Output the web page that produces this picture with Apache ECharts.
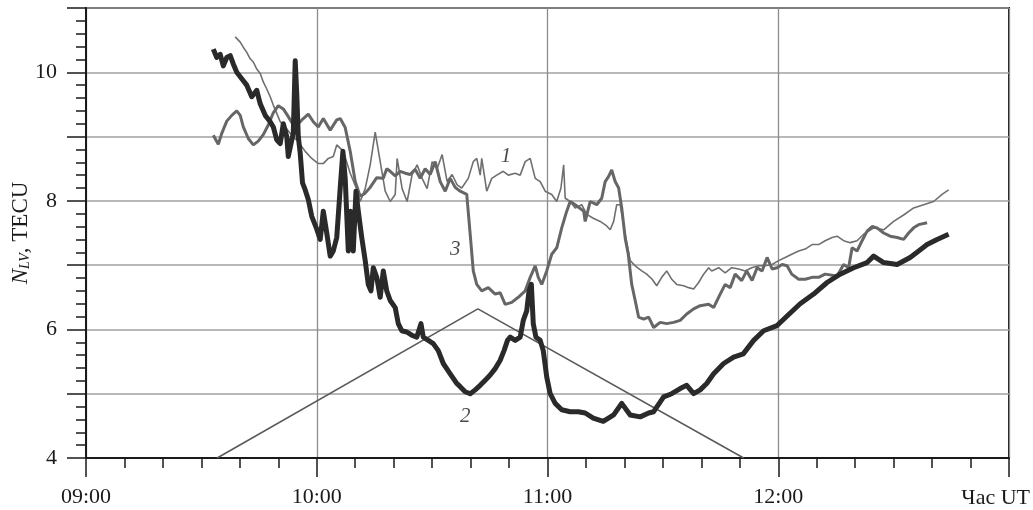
<!DOCTYPE html>
<html>
<head>
<meta charset="utf-8">
<script src="https://cdn.jsdelivr.net/npm/echarts@6/dist/echarts.min.js"></script>
<style>
  html, body { margin: 0; padding: 0; background: #fff; }
  #chart { width: 1033px; height: 510px; }
</style>
</head>
<body>
<div id="chart"></div>
<script>
// Time is given in minutes of the day (UT), values in TECU.
const xTicksMin = [540, 600, 660, 720, 780];
const yTickValues = [4, 6, 8, 10];

// Curve 1 (thin line)
const curve1 = [
  [578.8,10.55],[580.1,10.47],[580.9,10.39],[581.8,10.31],[582.7,10.21],[583.5,10.16],[584.4,10.05],
  [585.3,9.98],[586.1,9.85],[587.0,9.74],[587.9,9.62],[588.7,9.49],[589.6,9.36],[590.5,9.23],
  [591.8,9.15],[593.5,9.02],[595.2,8.92],[597.0,8.77],[598.7,8.66],[600.4,8.58],[601.7,8.58],
  [603.0,8.66],[604.3,8.69],[605.2,8.87],[606.9,8.77],[608.7,8.43],[610.4,8.18],[611.3,7.99],
  [612.6,8.19],[613.9,8.56],[615.2,9.07],[616.5,8.61],[617.8,8.15],[619.1,7.99],[620.4,8.10],
  [620.9,8.66],[622.2,8.19],[623.5,7.99],[624.8,8.41],[626.1,8.56],[627.4,8.35],[628.7,8.19],
  [630.0,8.61],[631.3,8.50],[632.6,8.72],[633.9,8.30],[635.2,8.41],[636.5,8.25],[637.7,8.20],
  [639.4,8.35],[640.7,8.61],[641.6,8.66],[642.5,8.40],[642.9,8.66],[644.2,8.15],[645.5,8.35],
  [646.8,8.40],[648.5,8.46],[649.8,8.40],[651.6,8.43],[652.9,8.40],[654.2,8.61],[655.5,8.66],
  [656.8,8.35],[658.1,8.30],[659.4,8.15],[661.1,8.10],[662.4,7.99],[663.5,8.20],[664.2,8.56],
  [664.6,8.04],[665.9,7.99],[667.2,7.89],[668.9,7.94],[670.2,7.79],[671.9,7.73],[673.7,7.68],
  [675.4,7.61],[676.3,7.55],[677.2,7.68],[678.0,7.94],[678.9,7.94],[680.2,7.48],[681.5,7.07],
  [682.8,6.99],[684.5,6.91],[685.8,6.86],[687.2,6.78],[688.4,6.68],[689.7,6.81],[691.0,6.91],
  [692.3,6.78],[693.6,6.70],[695.4,6.68],[696.7,6.65],[698.0,6.63],[699.3,6.73],[700.6,6.86],
  [701.9,6.96],[702.7,6.91],[704.5,6.96],[706.2,6.88],[707.9,6.96],[709.7,6.94],[711.4,6.91],
  [713.1,6.96],[714.9,6.99],[716.6,6.99],[718.4,7.01],[720.1,7.07],[721.8,7.12],[723.5,7.17],
  [725.3,7.22],[727.0,7.25],[728.8,7.32],[730.5,7.32],[732.2,7.38],[734.0,7.43],[735.3,7.45],
  [737.0,7.38],[738.7,7.35],[740.5,7.38],[742.2,7.48],[744.8,7.58],[747.4,7.55],[750.0,7.68],
  [752.6,7.78],[755.2,7.89],[757.8,7.94],[760.4,7.99],[762.6,8.10],[764.3,8.17]
];

// Curve 2 (thick dark line)
const curve2 = [
  [573.1,10.36],[574.0,10.23],[574.9,10.28],[575.7,10.10],[576.6,10.23],[577.5,10.26],[578.3,10.13],
  [579.2,10.00],[580.5,9.90],[581.8,9.80],[583.1,9.62],[584.4,9.72],[585.3,9.51],[586.6,9.33],
  [587.9,9.23],[588.7,9.15],[589.6,8.95],[590.5,8.89],[591.3,9.20],[592.2,9.00],[592.6,8.69],
  [593.3,8.89],[593.9,9.05],[594.4,10.18],[594.8,9.67],[595.2,9.00],[595.7,8.74],[596.3,8.28],
  [597.0,8.17],[597.8,8.02],[598.7,7.76],[600.0,7.56],[600.9,7.40],[601.7,7.84],[602.6,7.50],
  [603.5,7.14],[604.3,7.22],[605.2,7.43],[606.1,8.20],[606.8,8.77],[607.4,8.35],[608.2,7.22],
  [608.8,7.84],[609.5,7.22],[610.2,8.15],[610.8,7.84],[611.7,7.43],[612.6,7.07],[613.4,6.70],
  [614.1,6.60],[614.7,6.96],[615.6,6.81],[616.5,6.50],[617.3,6.91],[618.2,6.60],[619.1,6.45],
  [620.4,6.34],[621.2,6.09],[622.1,5.98],[623.4,5.96],[624.7,5.91],[626.0,5.88],[627.1,6.09],
  [627.7,5.88],[629.0,5.83],[630.3,5.78],[631.6,5.67],[632.9,5.47],[634.7,5.31],[636.4,5.16],
  [637.3,5.11],[638.6,5.03],[639.9,5.00],[641.2,5.06],[642.5,5.13],[643.8,5.21],[645.1,5.29],
  [646.4,5.39],[647.7,5.52],[648.7,5.67],[649.6,5.83],[650.3,5.88],[651.6,5.83],[652.9,5.88],
  [653.7,6.14],[654.6,6.29],[655.2,6.60],[655.8,6.70],[656.3,6.09],[657.0,5.88],[658.1,5.83],
  [658.9,5.67],[659.8,5.26],[660.7,5.00],[662.0,4.85],[663.7,4.75],[665.9,4.72],[668.0,4.72],
  [669.8,4.70],[671.9,4.62],[674.5,4.57],[677.2,4.67],[679.3,4.85],[681.5,4.67],[684.1,4.64],
  [686.3,4.70],[687.6,4.72],[690.2,4.95],[692.3,5.00],[694.5,5.08],[696.2,5.13],[698.0,5.00],
  [699.7,5.06],[701.4,5.16],[703.2,5.31],[705.8,5.47],[708.4,5.57],[710.9,5.62],[713.6,5.83],
  [716.2,5.98],[719.7,6.06],[722.3,6.21],[725.7,6.40],[729.2,6.55],[732.7,6.73],[736.1,6.86],
  [739.6,6.96],[743.1,7.04],[744.8,7.14],[747.4,7.04],[750.9,7.01],[754.3,7.12],[756.1,7.20],
  [758.7,7.32],[761.3,7.40],[764.3,7.48]
];

// Curve 3 (medium line)
const curve3 = [
  [573.1,9.02],[574.4,8.88],[575.3,9.05],[576.6,9.24],[577.9,9.33],[579.2,9.40],[580.1,9.33],
  [580.9,9.15],[582.2,8.97],[583.5,8.87],[584.8,8.93],[586.1,9.03],[587.4,9.18],[588.7,9.37],
  [590.0,9.48],[591.3,9.43],[592.6,9.31],[593.9,9.18],[595.2,9.20],[596.5,9.28],[597.8,9.35],
  [599.1,9.23],[600.4,9.15],[601.7,9.28],[603.5,9.10],[605.2,9.26],[606.1,9.28],[607.4,9.14],
  [608.7,8.77],[610.0,8.30],[611.3,8.07],[612.6,8.12],[613.9,8.21],[615.6,8.36],[617.3,8.35],
  [618.2,8.50],[619.1,8.46],[620.4,8.39],[621.7,8.46],[623.0,8.43],[624.3,8.41],[625.6,8.49],
  [626.9,8.35],[628.2,8.50],[629.5,8.41],[630.8,8.61],[632.1,8.30],[633.4,8.15],[634.7,8.35],
  [636.0,8.21],[637.3,8.15],[639.0,8.10],[639.9,7.48],[640.7,6.91],[641.6,6.70],[642.9,6.60],
  [644.6,6.65],[646.4,6.55],[647.7,6.57],[649.0,6.39],[650.7,6.42],[652.4,6.50],[654.2,6.60],
  [655.5,6.81],[656.8,6.99],[657.6,6.81],[658.5,6.70],[659.8,6.91],[661.1,7.17],[662.4,7.27],
  [663.7,7.58],[665.0,7.84],[665.9,7.99],[667.2,7.94],[669.4,7.84],[669.8,7.68],[671.1,7.99],
  [672.8,7.94],[674.1,8.04],[675.0,8.30],[675.9,8.38],[676.7,8.48],[677.6,8.30],[678.5,8.20],
  [679.3,7.89],[680.2,7.42],[681.0,7.17],[681.9,6.70],[682.8,6.45],[683.7,6.19],[685.0,6.16],
  [686.3,6.19],[687.6,6.03],[689.3,6.11],[691.0,6.09],[692.8,6.11],[694.5,6.14],[696.2,6.24],
  [698.0,6.32],[699.7,6.37],[701.9,6.39],[703.2,6.34],[704.9,6.55],[706.2,6.70],[707.5,6.65],
  [708.8,6.86],[710.5,6.76],[711.8,6.91],[713.2,6.76],[714.5,6.96],[715.8,6.91],[717.1,7.12],
  [718.4,6.94],[719.7,6.96],[721.0,7.01],[722.3,6.99],[723.5,6.86],[725.3,6.78],[727.0,6.78],
  [728.8,6.81],[730.5,6.81],[732.2,6.86],[735.3,6.83],[737.0,7.01],[738.3,6.96],[739.2,7.27],
  [740.5,7.22],[741.8,7.38],[743.1,7.53],[744.4,7.60],[745.7,7.58],[747.4,7.50],[749.1,7.45],
  [750.9,7.43],[752.6,7.40],[753.9,7.50],[755.2,7.58],[756.5,7.63],[758.7,7.66]
];

// Triangular profile
const triangle = [[574.1, 4.0], [641.9, 6.32], [711.0, 4.0]];

// Curve number labels: [time, value, text]
const curveLabels = [[649.2, 8.69, '1'], [636.0, 7.24, '3'], [638.6, 4.64, '2']];

const SERIF = '"Liberation Serif", "DejaVu Serif", serif';
const pad = n => String(n).padStart(2, '0');

const chart = echarts.init(document.getElementById('chart'), null, { renderer: 'canvas' });

chart.setOption({
  animation: false,
  backgroundColor: '#fff',
  grid: {
    left: 86, right: 24, top: 8, bottom: 52,
    containLabel: false,
    outerBoundsMode: 'none',
    show: true, borderColor: '#1a1a1a', borderWidth: 2,
    backgroundColor: 'transparent'
  },
  xAxis: {
    type: 'value',
    min: xTicksMin[0], max: xTicksMin[xTicksMin.length - 1], interval: 60,
    axisLine: { show: true, onZero: false, lineStyle: { color: '#1a1a1a', width: 2 } },
    axisTick: { show: true, inside: false, length: 19, lineStyle: { color: '#1a1a1a', width: 1.5 } },
    minorTick: { show: true, splitNumber: 6, length: 10, lineStyle: { color: '#1a1a1a', width: 1.5 } },
    splitLine: { show: true, lineStyle: { color: '#8c8c8c', width: 1.3 } },
    axisLabel: {
      margin: 28, fontFamily: SERIF, fontSize: 22, color: '#1a1a1a',
      formatter: v => (xTicksMin.indexOf(v) >= 0 && v < 780) ? pad(Math.floor(v / 60)) + ':' + pad(v % 60) : ''
    }
  },
  yAxis: {
    type: 'value',
    min: 4, max: 11, interval: 1,
    axisLine: { show: true, lineStyle: { color: '#1a1a1a', width: 2 } },
    axisTick: { show: true, inside: false, length: 19, lineStyle: { color: '#1a1a1a', width: 1.5 } },
    minorTick: { show: true, splitNumber: 5, length: 10, lineStyle: { color: '#1a1a1a', width: 1.5 } },
    splitLine: { show: true, lineStyle: { color: '#a0a0a0', width: 1.6 } },
    axisLabel: {
      margin: 29, fontFamily: SERIF, fontSize: 22, color: '#1a1a1a',
      formatter: v => yTickValues.indexOf(v) >= 0 ? String(v) : ''
    },
    name: '{n|N}{s|LV}{c|, TECU}',
    nameLocation: 'middle',
    nameGap: 54,
    nameRotate: 90,
    nameMoveOverlap: false,
    nameTextStyle: {
      color: '#1a1a1a',
      rich: {
        n: { fontFamily: SERIF, fontSize: 23, fontStyle: 'italic', color: '#1a1a1a' },
        s: { fontFamily: SERIF, fontSize: 14, fontStyle: 'italic', color: '#1a1a1a', verticalAlign: 'bottom' },
        c: { fontFamily: SERIF, fontSize: 23, color: '#1a1a1a' }
      }
    }
  },
  graphic: [{
    type: 'text',
    right: 3, top: 487,
    style: { text: 'Час UT', fontFamily: SERIF, fontSize: 22, fill: '#1a1a1a' }
  }],
  series: [
    {
      type: 'line', data: triangle, symbol: 'none',
      lineStyle: { color: '#5a5a5a', width: 1.6 }, z: 2
    },
    {
      type: 'line', data: curve1, symbol: 'none',
      lineStyle: { color: '#6f6f6f', width: 1.6 }, z: 3
    },
    {
      type: 'line', data: curve3, symbol: 'none',
      lineStyle: { color: '#666666', width: 3 }, z: 4
    },
    {
      type: 'line', data: curve2, symbol: 'none',
      lineStyle: { color: '#2a2a2a', width: 5, join: 'round' }, z: 5
    },
    {
      type: 'scatter', data: curveLabels, symbolSize: 0, z: 6,
      label: {
        show: true, position: 'inside',
        formatter: p => p.value[2],
        fontFamily: SERIF, fontSize: 21, fontStyle: 'italic', color: '#1a1a1a'
      }
    }
  ]
});
</script>
</body>
</html>
